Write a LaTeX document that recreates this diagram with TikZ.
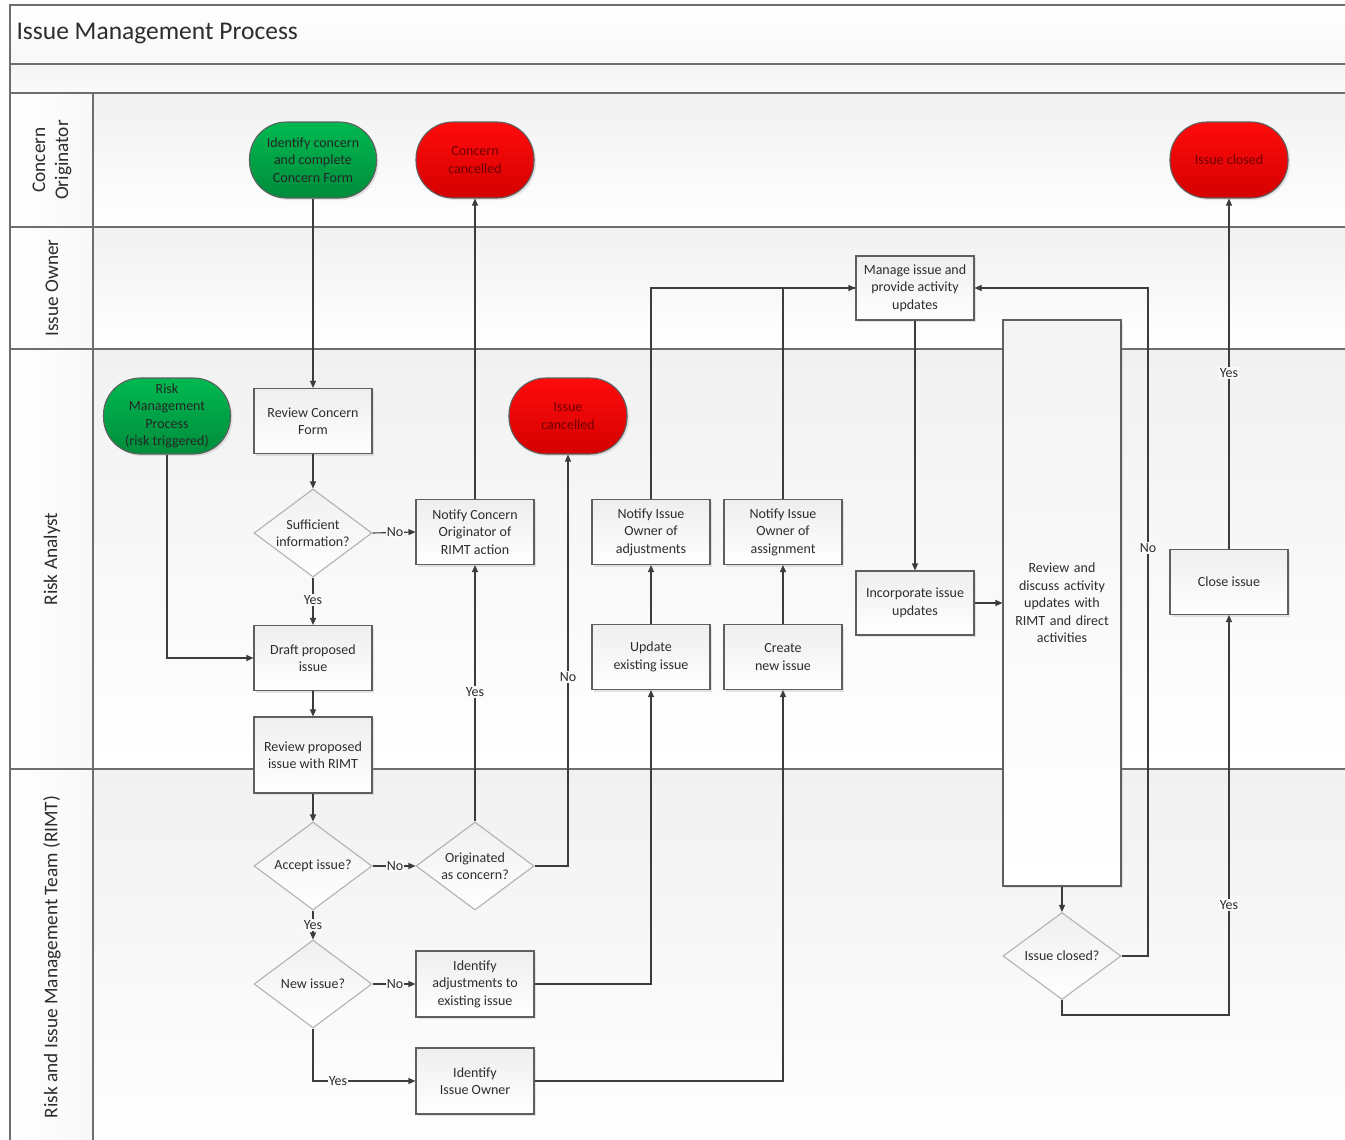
\documentclass[tikz,border=0pt]{standalone}
\usepackage{fontspec}
\setmainfont{Carlito}
\usetikzlibrary{arrows.meta,shapes.geometric,shadows,calc}
\definecolor{lnc}{RGB}{60,60,60}
\definecolor{bdr}{RGB}{95,95,95}
\definecolor{frm}{RGB}{110,110,110}
\definecolor{gtop}{RGB}{0,185,80}
\definecolor{gbot}{RGB}{0,140,60}
\definecolor{rtop}{RGB}{255,12,12}
\definecolor{rbot}{RGB}{212,0,0}
\definecolor{rtxt}{RGB}{110,0,0}
\definecolor{txt}{RGB}{45,45,45}
\tikzset{
  pfont/.style={font=\fontsize{14}{17.5}\selectfont},
  proc/.style={rectangle, draw=bdr, line width=1.1pt, top color=gray!13, bottom color=white,
    minimum width=118, minimum height=65, align=center, pfont, text=txt, inner sep=2pt,
    drop shadow={opacity=0.2, shadow xshift=2pt, shadow yshift=-2pt}},
  term/.style={rectangle, rounded corners=37pt, minimum width=127, minimum height=76,
    draw=bdr, line width=1.1pt, align=center, pfont, inner sep=2pt,
    drop shadow={opacity=0.2, shadow xshift=2pt, shadow yshift=-2pt}},
  greent/.style={term, top color=gtop, bottom color=gbot, text=black!85},
  redt/.style={term, minimum width=118, top color=rtop, bottom color=rbot, text=rtxt},
  dia/.style={diamond, draw=gray!60, line width=1.1pt, top color=gray!12, bottom color=white,
    minimum width=118, minimum height=88, inner sep=0pt},
  dtxt/.style={align=center, pfont, text=txt},
  lbl/.style={fill=gray!4, inner sep=1pt, pfont, text=txt},
  conn/.style={draw=lnc, line width=1.1pt, -{Triangle[length=7pt,width=6pt]}},
  plain/.style={draw=lnc, line width=1.1pt},
  lane/.style={top color=gray!11, bottom color=white, draw=none},
  lanetxt/.style={rotate=90, align=center, font=\fontsize{19.3}{23}\selectfont, text=txt},
}
\begin{document}
\begin{tikzpicture}[x=1pt,y=-1pt]
\clip (0,0) rectangle (1345,1140);
\fill[white] (0,0) rectangle (1345,1140);
% bands and lanes
\shade[top color=white, bottom color=gray!6] (10,5) rectangle (1360,64);
\shade[top color=gray!9, bottom color=gray!3] (10,64) rectangle (1360,93);
\shade[lane] (10,93) rectangle (1360,227);
\shade[lane] (10,227) rectangle (1360,349);
\shade[lane] (10,349) rectangle (1360,769);
\shade[lane] (10,769) rectangle (1360,1160);
\shade[left color=white, right color=gray!6] (10,93) rectangle (93,1160);
% frame lines
\draw[frm, line width=1.2pt] (1360,5) -- (10,5) -- (10,1160);
\foreach \yy in {64,93,227,349,769} \draw[frm, line width=1.2pt] (10,\yy) -- (1360,\yy);
\draw[frm, line width=1.2pt] (93,93) -- (93,1160);
% title and lane headers
\node[anchor=west, font=\fontsize{25.5}{30}\selectfont, text=txt] (title) at (13,34) {Issue Management Process};
\node[lanetxt] (l1) at (52,160) {Concern\\Originator};
\node[lanetxt] (l2) at (52,288) {Issue Owner};
\node[lanetxt] (l3) at (52,559) {Risk Analyst};
\node[lanetxt] (l4) at (52,957) {Risk and Issue Management Team (RIMT)};
% nodes
\node[greent] (idc) at (313,160) {Identify concern\\and complete\\Concern Form};
\node[redt] (ccan) at (475,160) {Concern\\cancelled};
\node[redt] (iclosed) at (1229,160) {Issue closed};
\node[proc, minimum height=64] (man) at (915,288) {Manage issue and\\provide activity\\updates};
\node[greent] (rmp) at (167,416) {Risk\\Management\\Process\\(risk triggered)};
\node[proc] (rcf) at (313,421) {Review Concern\\Form};
\node[redt] (icn) at (568,416) {Issue\\cancelled};
\node[dia, label={[dtxt]center:{Sufficient\\information?}}] (suf) at (313,533) {};
\node[proc] (nco) at (475,532) {Notify Concern\\Originator of\\RIMT action};
\node[proc] (nad) at (651,532) {Notify Issue\\Owner of\\adjustments};
\node[proc] (nas) at (783,532) {Notify Issue\\Owner of\\assignment};
\node[proc, minimum height=64] (inc) at (915,603) {Incorporate issue\\updates};
\node[proc, minimum height=566, text width=110, top color=gray!9] (rev) at (1062,603) {Review and\\discuss activity\\updates with\\RIMT and direct\\activities};
\node[proc] (cls) at (1229,582) {Close issue};
\node[proc] (dft) at (313,658) {Draft proposed\\issue};
\node[proc] (upd) at (651,657) {Update\\existing issue};
\node[proc] (cre) at (783,657) {Create\\new issue};
\node[proc, minimum height=76] (rpi) at (313,755) {Review proposed\\issue with RIMT};
\node[dia, label={[dtxt]center:{Accept issue?}}] (acc) at (313,866) {};
\node[dia, label={[dtxt]center:{Originated\\as concern?}}] (orig) at (475,866) {};
\node[dia, label={[dtxt]center:{New issue?}}] (new) at (313,984) {};
\node[proc, minimum height=66] (adj) at (475,984) {Identify\\adjustments to\\existing issue};
\node[proc, minimum height=66] (iio) at (475,1081) {Identify\\Issue Owner};
\node[dia, minimum height=87, label={[dtxt]center:{Issue closed?}}] (icq) at (1062,956) {};
% bend coordinates
\coordinate (nobend) at (1148,956);
\coordinate (yesbend) at (1062,1015);
% connectors
\draw[conn] (idc.south) -- (rcf.north);
\draw[conn] (rcf.south) -- (suf.north);
\draw[conn] (suf.east) -- (nco.west);
\draw[conn] (suf.south) -- (dft.north);
\draw[conn] (rmp.south) |- (dft.west);
\draw[conn] (dft.south) -- (rpi.north);
\draw[conn] (rpi.south) -- (acc.north);
\draw[conn] (acc.east) -- (orig.west);
\draw[conn] (acc.south) -- (new.north);
\draw[conn] (orig.north) -- (nco.south);
\draw[conn] (orig.east) -| (icn.south);
\draw[conn] (nco.north) -- (ccan.south);
\draw[conn] (new.east) -- (adj.west);
\draw[conn] (new.south) |- (iio.west);
\draw[conn] (adj.east) -| (upd.south);
\draw[conn] (iio.east) -| (cre.south);
\draw[conn] (upd.north) -- (nad.south);
\draw[conn] (cre.north) -- (nas.south);
\draw[plain] (nas.north) |- (man.west);
\draw[conn] (nad.north) |- (man.west);
\draw[conn] (man.south) -- (inc.north);
\draw[conn] (inc.east) -- (rev.west);
\draw[conn] (rev.south) -- (icq.north);
\draw[conn] (icq.east) -- (nobend) |- (man.east);
\draw[conn] (icq.south) -- (yesbend) -| (cls.south);
\draw[conn] (cls.north) -- (iclosed.south);
% edge labels
\node[lbl] (e1) at (395,532) {No};
\node[lbl] (e2) at (313,600) {Yes};
\node[lbl] (e3) at (475,692) {Yes};
\node[lbl] (e4) at (568,677) {No};
\node[lbl] (e5) at (395,866) {No};
\node[lbl] (e6) at (313,925) {Yes};
\node[lbl] (e7) at (395,984) {No};
\node[lbl] (e8) at (338,1081) {Yes};
\node[lbl] (e9) at (1148,548) {No};
\node[lbl] (e10) at (1229,905) {Yes};
\node[lbl] (e11) at (1229,373) {Yes};
\end{tikzpicture}
\end{document}
